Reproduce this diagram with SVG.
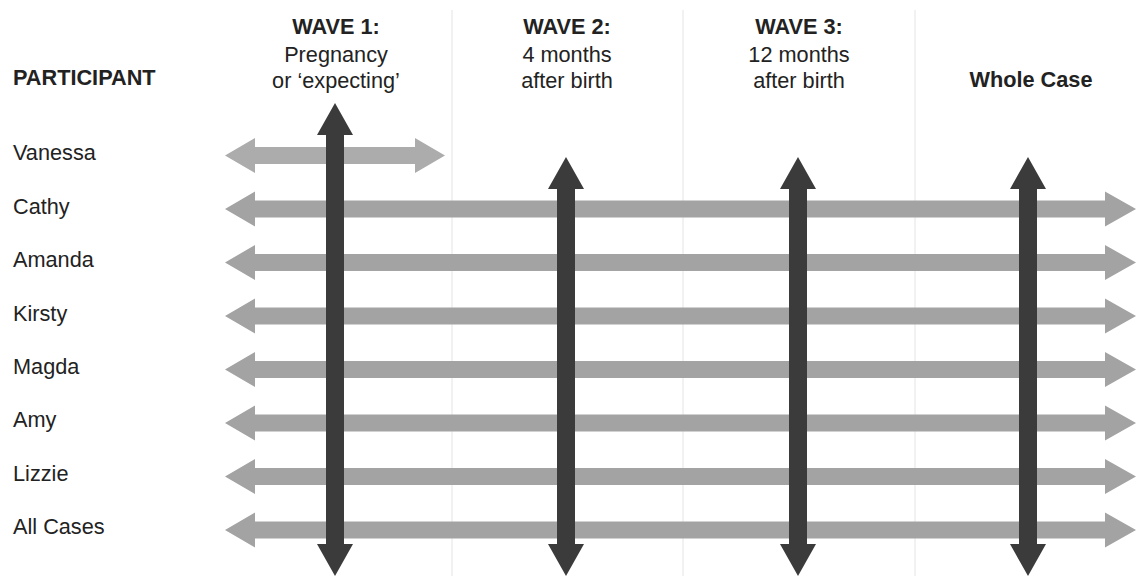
<svg xmlns="http://www.w3.org/2000/svg" xmlns:xlink="http://www.w3.org/1999/xlink" width="1137" height="576" viewBox="0 0 1137 576">
<style>
  text { font-family: "Liberation Sans", Arial, sans-serif; fill: #222; font-size: 21.7px; }
  .b { font-weight: bold; }
  .c { text-anchor: middle; }
  .h { fill: #a3a3a3; }
  .v { fill: #3b3b3b; }
  .grid { stroke: #e4e4e4; stroke-width: 1; }
</style>
<defs>
  <path id="rowArrow" d="M225,0 L255,-17.5 L255,-8.5 L1105,-8.5 L1105,-17.5 L1136,0 L1105,17.5 L1105,8.5 L255,8.5 L255,17.5 Z"/>
</defs>
<rect width="1137" height="576" fill="#ffffff"/>
<g id="grid">
  <line class="grid" x1="452" y1="10" x2="452" y2="576"/>
  <line class="grid" x1="683" y1="10" x2="683" y2="576"/>
  <line class="grid" x1="915" y1="10" x2="915" y2="576"/>
</g>
<g id="headers">
  <text class="b" x="13" y="85">PARTICIPANT</text>
  <g id="wave1">
    <text class="b c" x="336" y="34">WAVE 1:</text>
    <text class="c" x="336" y="62">Pregnancy</text>
    <text class="c" x="336" y="88">or ‘expecting’</text>
  </g>
  <g id="wave2">
    <text class="b c" x="567" y="34">WAVE 2:</text>
    <text class="c" x="567" y="62">4 months</text>
    <text class="c" x="567" y="88">after birth</text>
  </g>
  <g id="wave3">
    <text class="b c" x="799" y="34">WAVE 3:</text>
    <text class="c" x="799" y="62">12 months</text>
    <text class="c" x="799" y="88">after birth</text>
  </g>
  <g id="wholecase">
    <text class="b c" x="1031" y="87">Whole Case</text>
  </g>
</g>
<g id="participants">
  <g id="vanessa"><text x="13" y="160">Vanessa</text></g>
  <g id="cathy"><text x="13" y="214">Cathy</text></g>
  <g id="amanda"><text x="13" y="267">Amanda</text></g>
  <g id="kirsty"><text x="13" y="321">Kirsty</text></g>
  <g id="magda"><text x="13" y="374">Magda</text></g>
  <g id="amy"><text x="13" y="427">Amy</text></g>
  <g id="lizzie"><text x="13" y="481">Lizzie</text></g>
  <g id="allcases"><text x="13" y="534">All Cases</text></g>
</g>
<g id="connectors">
  <g id="horizontal">
    <path d="M225,155.5 L255,138 L255,147 L415,147 L415,138 L445,155.5 L415,173 L415,164 L255,164 L255,173 Z" fill="#acacac"/>
    <use class="h" xlink:href="#rowArrow" transform="translate(0,209)"/>
    <use class="h" xlink:href="#rowArrow" transform="translate(0,262.5)"/>
    <use class="h" xlink:href="#rowArrow" transform="translate(0,316)"/>
    <use class="h" xlink:href="#rowArrow" transform="translate(0,369.5)"/>
    <use class="h" xlink:href="#rowArrow" transform="translate(0,423)"/>
    <use class="h" xlink:href="#rowArrow" transform="translate(0,476.5)"/>
    <use class="h" xlink:href="#rowArrow" transform="translate(0,530)"/>
  </g>
  <g id="vertical">
    <path class="v" d="M335,103 L353,135 L344,135 L344,544 L353,544 L335,576 L317,544 L326,544 L326,135 L317,135 Z"/>
    <path class="v" d="M566,157 L584,189 L575,189 L575,544 L584,544 L566,576 L548,544 L557,544 L557,189 L548,189 Z"/>
    <path class="v" d="M798,157 L816,189 L807,189 L807,544 L816,544 L798,576 L780,544 L789,544 L789,189 L780,189 Z"/>
    <path class="v" d="M1028,157 L1046,189 L1037,189 L1037,544 L1046,544 L1028,576 L1010,544 L1019,544 L1019,189 L1010,189 Z"/>
  </g>
</g>
</svg>
